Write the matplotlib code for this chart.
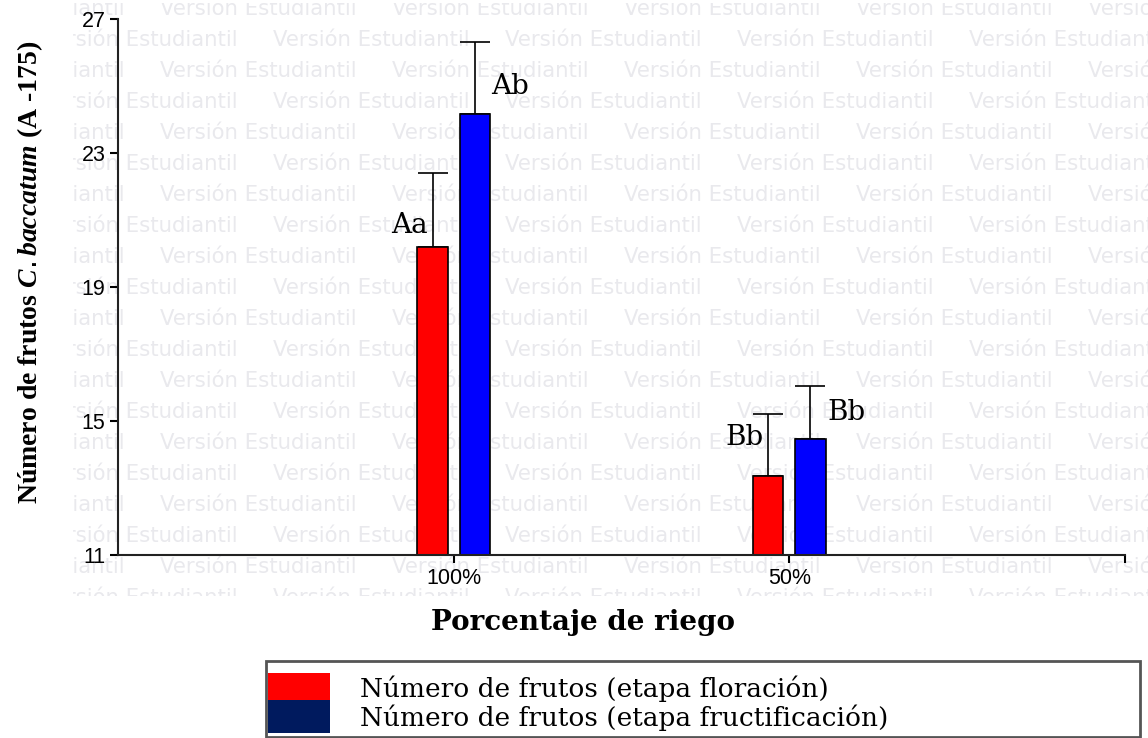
import matplotlib
matplotlib.use("Agg")
import numpy as np
import matplotlib.pyplot as plt
from matplotlib.patches import Rectangle

# Datos
riego = ["100%", "50%"]
floracion = [20.2, 13.35]
floracion_err = [2.2, 1.85]
fructificacion = [24.15, 14.45]
fructificacion_err = [2.15, 1.6]
letras_flor = ["Aa", "Bb"]
letras_fruc = ["Ab", "Bb"]
leyenda = ["Número de frutos (etapa floración)", "Número de frutos (etapa fructificación)"]

# desplazamiento vertical de las letras sobre las barras
sube_flor = [0.65, 1.15]
sube_fruc = [0.85, 0.8]

W, H = 1148, 738
fig = plt.figure(figsize=(W / 100, H / 100), dpi=100)

# marca de agua "Versión Estudiantil"
wm = fig.add_axes([73 / W, 1 - 596 / H, (W - 73) / W, (596 - 3) / H], zorder=-1)
wm.set_xlim(73, W)
wm.set_ylim(596, 3)
wm.axis("off")
for k in range(20):
    y = 9 + 31 * k
    x0 = -72 if k % 2 == 0 else 41
    for j in range(6):
        wm.text(x0 + 232 * j, y, "Versión Estudiantil", color="#e9e9ed",
                fontsize=15.3, family="DejaVu Sans", va="center", ha="left",
                clip_on=True)

ax = fig.add_axes([118 / W, 1 - 555 / H, (1125 - 118) / W, (555 - 19) / H])
ax.patch.set_alpha(0)

x = np.arange(1, len(riego) + 1)
w = 0.09
off = 0.063
ax.bar(x - off, floracion, w, color="#ff0000", edgecolor="black", linewidth=1.2, zorder=2)
ax.bar(x + off, fructificacion, w, color="#0000ff", edgecolor="black", linewidth=1.2, zorder=2)
ax.errorbar(x - off, floracion, yerr=[np.zeros(2), floracion_err], fmt="none",
            ecolor="black", elinewidth=1.2, capsize=11, capthick=1.2, zorder=1)
ax.errorbar(x + off, fructificacion, yerr=[np.zeros(2), fructificacion_err], fmt="none",
            ecolor="black", elinewidth=1.2, capsize=11, capthick=1.2, zorder=1)

for i in range(len(riego)):
    ax.text(x[i] - off - 0.015, floracion[i] + sube_flor[i], letras_flor[i], ha="right",
            va="center", family="DejaVu Serif", fontsize=20)
    ax.text(x[i] + off + 0.05, fructificacion[i] + sube_fruc[i], letras_fruc[i], ha="left",
            va="center", family="DejaVu Serif", fontsize=20)

ax.set_xlim(0, 3)
ax.set_ylim(11, 27)
ax.set_yticks([11, 15, 19, 23, 27])
ax.set_xticks([1, 2, 3])
ax.set_xticklabels(riego + [""])
for s in ["top", "right"]:
    ax.spines[s].set_visible(False)
for s in ["left", "bottom"]:
    ax.spines[s].set_linewidth(1.5)
    ax.spines[s].set_color("#222222")
ax.tick_params(axis="both", direction="out", length=6, width=1.5, labelsize=15.5, pad=3)
for t in ax.get_xticklabels() + ax.get_yticklabels():
    t.set_family("Liberation Sans")

plt.rcParams["mathtext.fontset"] = "custom"
plt.rcParams["mathtext.it"] = "Liberation Serif:italic:bold"
fig.text(30 / W, 1 - 272 / H, r"Número de frutos $\it{C. baccatum}$ (A -175)",
         rotation=90, ha="center", va="center", family="Liberation Serif",
         fontweight="bold", fontsize=20)
fig.text(583 / W, 1 - 622 / H, "Porcentaje de riego", ha="center", va="center",
         family="DejaVu Serif", fontweight="bold", fontsize=20)

# leyenda
fig.patches.append(Rectangle((266 / W, 1 - 737 / H), (1140 - 266) / W, (737 - 661) / H,
                             transform=fig.transFigure, facecolor="white",
                             edgecolor="#555555", linewidth=2))
fig.patches.append(Rectangle((268 / W, 1 - 700 / H), 62 / W, 27 / H,
                             transform=fig.transFigure, facecolor="#ff0000", edgecolor="none"))
fig.patches.append(Rectangle((268 / W, 1 - 733 / H), 62 / W, 33 / H,
                             transform=fig.transFigure, facecolor="#001a5e", edgecolor="none"))
fig.text(360 / W, 1 - 689 / H, leyenda[0], ha="left", va="center",
         family="DejaVu Serif", fontsize=19)
fig.text(360 / W, 1 - 718 / H, leyenda[1], ha="left", va="center",
         family="DejaVu Serif", fontsize=19)

fig.savefig("out.png", dpi=100)
